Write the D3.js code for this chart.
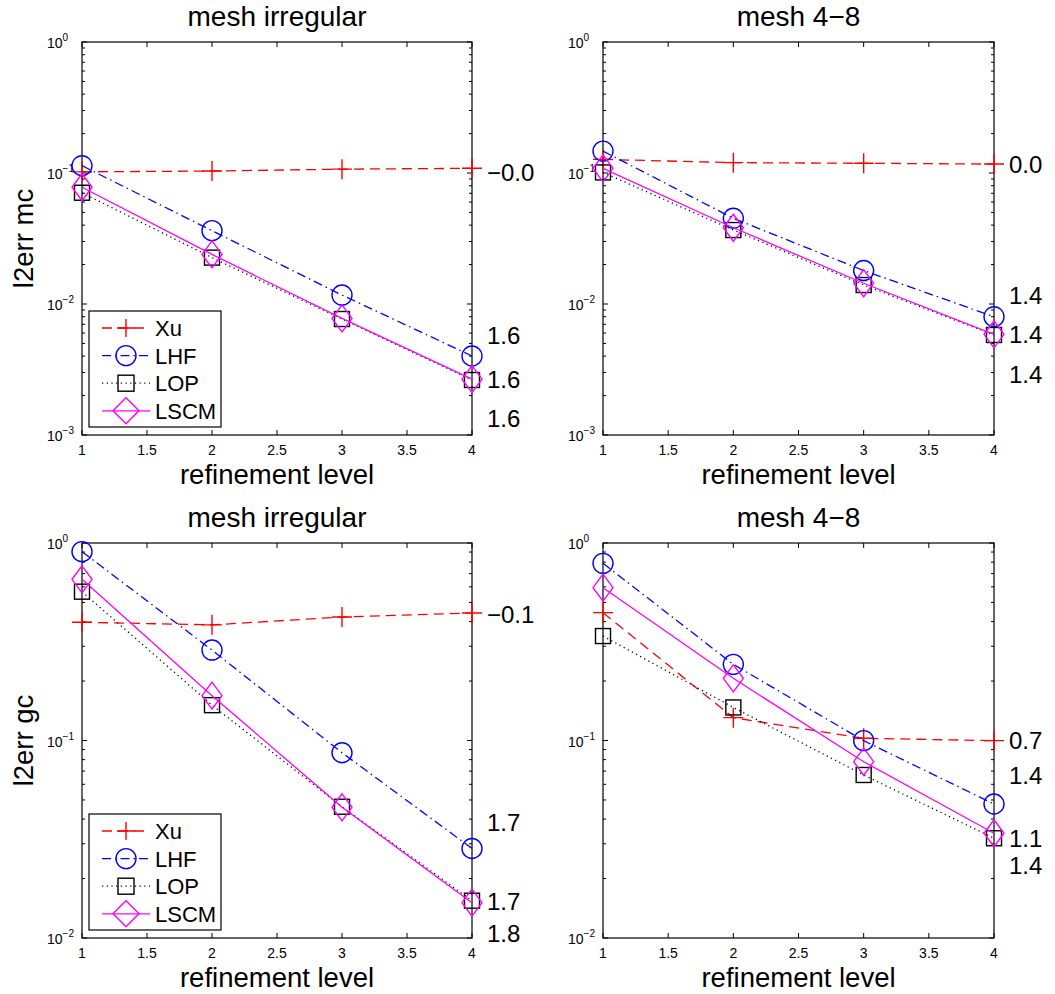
<!DOCTYPE html>
<html><head><meta charset="utf-8">
<script src="https://cdn.jsdelivr.net/npm/d3@7"></script>
<style>
body{margin:0;background:#fff}
svg{display:block}
text{font-family:"Liberation Sans",Arial,Helvetica,sans-serif;fill:#000}
</style>
</head><body>
<svg id="chart" width="1055" height="994"></svg>
<script>
// ---------------- data ----------------
const levels = [1, 2, 3, 4];
const seriesNames = ["Xu", "LHF", "LOP", "LSCM"];
const xTickValues = [1, 1.5, 2, 2.5, 3, 3.5, 4];

// l2err mc, mesh irregular
const mcIrrXu   = [0.102, 0.1035, 0.107, 0.1086];
const mcIrrLHF  = [0.1137, 0.0363, 0.0117, 0.00401];
const mcIrrLOP  = [0.0707, 0.0226, 0.00768, 0.00263];
const mcIrrLSCM = [0.0778, 0.0239, 0.00776, 0.00267];
const mcIrrRateLabels = ["\u22120.0", "1.6", "1.6", "1.6"];
const mcIrrRateAt     = [0.1018, 0.0058, 0.00268, 0.00135];

// l2err mc, mesh 4-8
const mc48Xu   = [0.127, 0.120, 0.1186, 0.117];
const mc48LHF  = [0.147, 0.0451, 0.0180, 0.0080];
const mc48LOP  = [0.101, 0.0367, 0.01396, 0.0058];
const mc48LSCM = [0.1086, 0.0382, 0.0144, 0.00587];
const mc48RateLabels = ["0.0", "1.4", "1.4", "1.4"];
const mc48RateAt     = [0.117, 0.0117, 0.0059, 0.00292];

// l2err gc, mesh irregular
const gcIrrXu   = [0.397, 0.385, 0.422, 0.442];
const gcIrrLHF  = [0.904, 0.287, 0.0867, 0.0284];
const gcIrrLOP  = [0.567, 0.151, 0.0462, 0.01545];
const gcIrrLSCM = [0.655, 0.1686, 0.0459, 0.0151];
const gcIrrRateLabels = ["\u22120.1", "1.7", "1.7", "1.8"];
const gcIrrRateAt     = [0.4385, 0.0388, 0.01545, 0.01056];

// l2err gc, mesh 4-8
const gc48Xu   = [0.444, 0.1305, 0.1026, 0.0998];
const gc48LHF  = [0.789, 0.243, 0.0998, 0.0477];
const gc48LOP  = [0.338, 0.147, 0.0669, 0.0320];
const gc48LSCM = [0.594, 0.2065, 0.0781, 0.0339];
const gc48RateLabels = ["0.7", "1.4", "1.1", "1.4"];
const gc48RateAt     = [0.1006, 0.0669, 0.0322, 0.0234];

const panelTitles = ["mesh irregular", "mesh 4\u22128", "mesh irregular", "mesh 4\u22128"];
const yLabels = ["l2err mc", "", "l2err gc", ""];
const yMinExp = [-3, -3, -2, -2];

// ---------------- styles ----------------
const styles = {
  Xu:   {color: "#ff0000", dash: "10,6", marker: "plus"},
  LHF:  {color: "#0000ff", dash: "9,4,1.5,4", marker: "circle"},
  LOP:  {color: "#000000", dash: "1.2,3.5", marker: "square"},
  LSCM: {color: "#ff00ff", dash: null, marker: "diamond"}
};

const panels = [
  {series: [mcIrrXu, mcIrrLHF, mcIrrLOP, mcIrrLSCM], labels: mcIrrRateLabels, at: mcIrrRateAt, legend: true,
   x0: 82, x1: 472, y0: 42, y1: 435},
  {series: [mc48Xu, mc48LHF, mc48LOP, mc48LSCM], labels: mc48RateLabels, at: mc48RateAt, legend: false,
   x0: 603, x1: 994, y0: 42, y1: 435},
  {series: [gcIrrXu, gcIrrLHF, gcIrrLOP, gcIrrLSCM], labels: gcIrrRateLabels, at: gcIrrRateAt, legend: true,
   x0: 82, x1: 472, y0: 543, y1: 938},
  {series: [gc48Xu, gc48LHF, gc48LOP, gc48LSCM], labels: gc48RateLabels, at: gc48RateAt, legend: false,
   x0: 603, x1: 994, y0: 543, y1: 938}
];

const svg = d3.select("#chart");

function drawMarker(g, type, cx, cy, color, legend) {
  if (type === "plus") {
    const h = legend ? 9 : 10;
    g.append("path").attr("d", `M${cx - h},${cy}H${cx + h}M${cx},${cy - h}V${cy + h}`)
      .attr("stroke", color).attr("stroke-width", 1.4).attr("fill", "none");
  } else if (type === "circle") {
    g.append("circle").attr("cx", cx).attr("cy", cy).attr("r", 10)
      .attr("stroke", color).attr("stroke-width", 1.4).attr("fill", "none");
  } else if (type === "square") {
    const h = legend ? 8 : 7.5;
    g.append("rect").attr("x", cx - h).attr("y", cy - h).attr("width", 2 * h).attr("height", 2 * h)
      .attr("stroke", color).attr("stroke-width", 1.4).attr("fill", "none");
  } else if (type === "diamond") {
    const hw = legend ? 13 : 10, hh = legend ? 13 : 13.5;
    g.append("path").attr("d", `M${cx},${cy - hh}L${cx + hw},${cy}L${cx},${cy + hh}L${cx - hw},${cy}Z`)
      .attr("stroke", color).attr("stroke-width", 1.4).attr("fill", "none");
  }
}

panels.forEach((p, i) => {
  const g = svg.append("g");
  const x = d3.scaleLinear().domain([1, 4]).range([p.x0, p.x1]);
  const y = d3.scaleLog().domain([Math.pow(10, yMinExp[i]), 1]).range([p.y1, p.y0]);

  // frame
  g.append("rect").attr("x", p.x0).attr("y", p.y0).attr("width", p.x1 - p.x0).attr("height", p.y1 - p.y0)
    .attr("fill", "none").attr("stroke", "#000").attr("stroke-width", 1.2);

  // x ticks (bottom + top, inward)
  const xt = g.append("g");
  xTickValues.forEach(v => {
    const xx = x(v);
    xt.append("line").attr("x1", xx).attr("x2", xx).attr("y1", p.y1).attr("y2", p.y1 - 5).attr("stroke", "#000");
    xt.append("line").attr("x1", xx).attr("x2", xx).attr("y1", p.y0).attr("y2", p.y0 + 5).attr("stroke", "#000");
    xt.append("text").attr("x", xx).attr("y", p.y1 + 20).attr("text-anchor", "middle")
      .attr("font-size", 14).text(d3.format("")(v));
  });

  // y ticks (log, major + minor, both sides inward)
  const yt = g.append("g");
  for (let e = yMinExp[i]; e <= 0; e++) {
    const base = Math.pow(10, e);
    for (let m = 1; m <= 9; m++) {
      const v = base * m;
      if (v > 1.0000001) break;
      const yy = y(v);
      const len = m === 1 ? 5 : 3;
      yt.append("line").attr("x1", p.x0).attr("x2", p.x0 + len).attr("y1", yy).attr("y2", yy).attr("stroke", "#000");
      yt.append("line").attr("x1", p.x1).attr("x2", p.x1 - len).attr("y1", yy).attr("y2", yy).attr("stroke", "#000");
    }
    const lbl = yt.append("text").attr("x", p.x0 - 35).attr("y", y(base) + 6).attr("font-size", 14);
    lbl.append("tspan").text("10");
    lbl.append("tspan").attr("dy", -7).attr("font-size", 10).text(e === 0 ? "0" : "\u2212" + (-e));
  }

  // title & labels
  g.append("text").attr("x", (p.x0 + p.x1) / 2).attr("y", p.y0 - 16).attr("text-anchor", "middle")
    .attr("font-size", 28).text(panelTitles[i]);
  g.append("text").attr("x", (p.x0 + p.x1) / 2).attr("y", p.y1 + 49).attr("text-anchor", "middle")
    .attr("font-size", 27.5).text("refinement level");
  if (yLabels[i]) {
    const cy = (p.y0 + p.y1) / 2;
    g.append("text").attr("transform", `translate(33,${cy}) rotate(-90)`).attr("text-anchor", "middle")
      .attr("font-size", 27.5).text(yLabels[i]);
  }

  // series
  const line = d3.line().x((d, k) => x(levels[k])).y(d => y(d));
  seriesNames.forEach((name, s) => {
    const st = styles[name];
    const data = p.series[s];
    const path = g.append("path").datum(data).attr("d", line).attr("fill", "none")
      .attr("stroke", st.color).attr("stroke-width", 1.3);
    if (st.dash) path.attr("stroke-dasharray", st.dash);
    data.forEach((d, k) => drawMarker(g, st.marker, x(levels[k]), y(d), st.color, false));
  });

  // rate labels on the right
  p.labels.forEach((t, k) => {
    g.append("text").attr("x", p.x1 + 15).attr("y", y(p.at[k]) + 9).attr("font-size", 24).text(t);
  });

  // legend
  if (p.legend) {
    const lx = p.x0 + 7, ly = p.y1 - 124, lw = 132, lh = 116;
    const lg = g.append("g");
    lg.append("rect").attr("x", lx).attr("y", ly).attr("width", lw).attr("height", lh)
      .attr("fill", "#fff").attr("stroke", "#000").attr("stroke-width", 1.2);
    seriesNames.forEach((name, s) => {
      const st = styles[name];
      const ry = ly + 17 + s * 27.6;
      const l = lg.append("line").attr("x1", lx + 13).attr("x2", lx + 61).attr("y1", ry).attr("y2", ry)
        .attr("stroke", st.color).attr("stroke-width", 1.3);
      if (st.dash) l.attr("stroke-dasharray", st.dash);
      drawMarker(lg, st.marker, lx + 37, ry, st.color, true);
      lg.append("text").attr("x", lx + 66).attr("y", ry + 8).attr("font-size", 22).text(name);
    });
  }
});
</script>
</body></html>
